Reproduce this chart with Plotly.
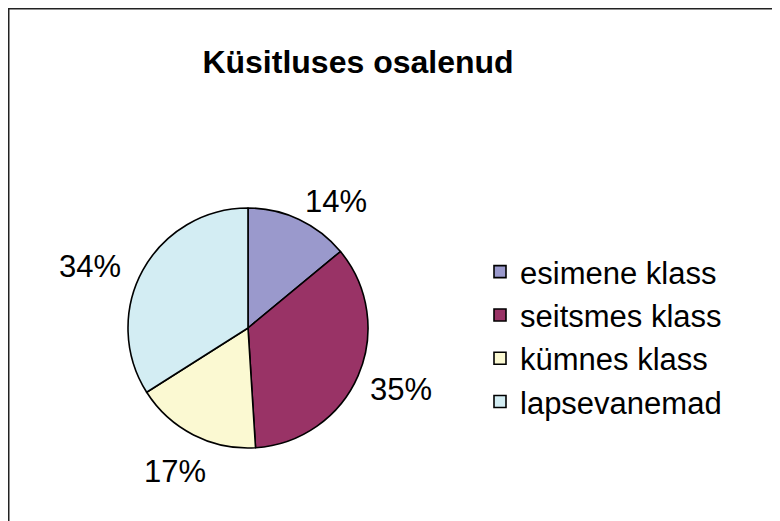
import plotly.graph_objects as go

W, H = 780, 521

title = "Küsitluses osalenud"
categories = ["esimene klass", "seitsmes klass", "kümnes klass", "lapsevanemad"]
values = [14, 35, 17, 34]
colors = ["#9a99cc", "#993366", "#fbf9d2", "#d3edf3"]

FONT = "Liberation Sans, Arial, sans-serif"

# pie geometry in figure pixels
cx, cy, R = 240, 320, 120

fig = go.Figure(go.Pie(
    labels=categories,
    values=values,
    sort=False,
    direction="clockwise",
    rotation=0,
    marker=dict(colors=colors, line=dict(color="black", width=1.6)),
    textinfo="none",
    domain=dict(x=[(cx - R) / W, (cx + R) / W],
                y=[(H - cy - R) / H, (H - cy + R) / H]),
    hoverinfo="label+percent",
))

# percentage labels placed around the pie (Excel style placement)
total = sum(values)
label_offsets = [(88, -126.5), (153, 62), (-73, 143), (-158.5, -61.5)]  # px from pie centre
annotations = []
for v, (dx, dy) in zip(values, label_offsets):
    annotations.append(dict(
        text=f"{round(100 * v / total)}%",
        x=(cx + dx) / W, y=(H - (cy + dy)) / H,
        xref="paper", yref="paper", xanchor="center", yanchor="middle",
        showarrow=False, font=dict(family=FONT, size=31, color="black"),
    ))

fig.update_layout(
    width=W, height=H,
    margin=dict(l=0, r=0, t=0, b=0, autoexpand=False),
    paper_bgcolor="white",
    plot_bgcolor="white",
    font=dict(family=FONT, color="black"),
    title=dict(text="<b>" + title + "</b>", x=350 / W, xanchor="center",
               y=1 - 53.5 / H, yanchor="middle",
               font=dict(size=32, color="black")),
    showlegend=True,
    legend=dict(x=472 / W, y=1 - 237 / H, xanchor="left", yanchor="top",
                font=dict(size=31, color="black"),
                bgcolor="rgba(0,0,0,0)", traceorder="normal"),
    annotations=annotations,
    shapes=[dict(type="rect", xref="paper", yref="paper",
                 x0=0, x1=1.02, y0=-0.02, y1=1,
                 line=dict(color="#222222", width=3))],
)

fig.write_html("out.html")
